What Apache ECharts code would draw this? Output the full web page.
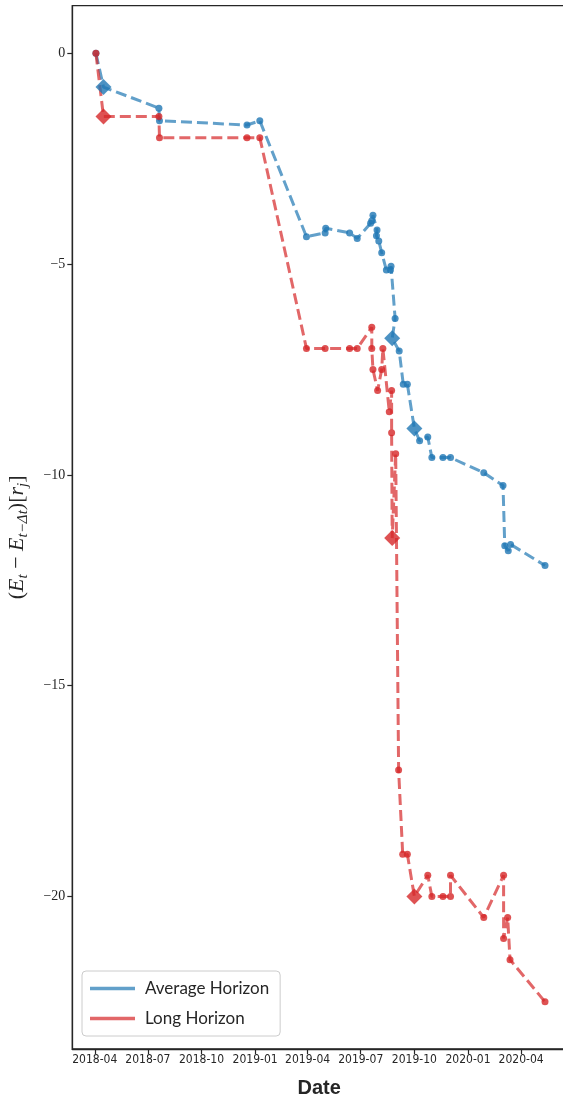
<!DOCTYPE html>
<html>
<head>
<meta charset="utf-8">
<script src="https://cdn.jsdelivr.net/npm/echarts@6/dist/echarts.min.js"></script>
<style>
html,body{margin:0;padding:0;background:#fff;}
#chart{width:563px;height:1099px;}
</style>
</head>
<body>
<div id="chart"></div>
<script>
// ---- data ----
const seriesNames = ['Average Horizon', 'Long Horizon'];

const avgDates = ['2018-04-03','2018-04-16','2018-07-20','2018-07-21','2018-12-18','2019-01-09','2019-03-30',
  '2019-05-01','2019-05-02','2019-06-12','2019-06-25','2019-07-18','2019-07-20','2019-07-22','2019-07-29',
  '2019-07-28','2019-08-01','2019-08-06','2019-08-14','2019-08-21','2019-08-22','2019-08-29','2019-08-24',
  '2019-09-05','2019-09-12','2019-09-19','2019-10-01','2019-10-10','2019-10-24','2019-10-31','2019-11-19',
  '2019-12-02','2020-01-28','2020-03-01','2020-03-04','2020-03-10','2020-03-14','2020-05-12'];
const avgValues = [0,-0.80,-1.30,-1.60,-1.70,-1.60,-4.35,
  -4.26,-4.15,-4.26,-4.39,-4.03,-3.97,-3.84,-4.19,
  -4.33,-4.45,-4.73,-5.14,-5.14,-5.05,-6.29,-6.76,
  -7.06,-7.85,-7.85,-8.90,-9.19,-9.10,-9.59,-9.59,
  -9.59,-9.95,-10.25,-11.68,-11.80,-11.65,-12.15];

const longDates = ['2018-04-03','2018-04-16','2018-07-20','2018-07-21','2018-12-18','2019-01-09','2019-03-30',
  '2019-05-01','2019-06-12','2019-06-25','2019-07-20','2019-07-20','2019-07-22','2019-07-30','2019-08-06',
  '2019-08-08','2019-08-19','2019-08-23','2019-08-23','2019-08-24','2019-08-30','2019-09-04','2019-09-11',
  '2019-09-19','2019-10-01','2019-10-24','2019-10-31','2019-11-19','2019-12-02','2019-12-02','2020-01-28',
  '2020-03-02','2020-03-02','2020-03-09','2020-03-13','2020-05-12'];
const longValues = [0,-1.5,-1.5,-2.0,-2.0,-2.0,-7.0,
  -7.0,-7.0,-7.0,-6.5,-7.0,-7.5,-8.0,-7.5,
  -7.0,-8.5,-8.0,-9.0,-11.5,-9.5,-17.0,-19.0,
  -19.0,-20.0,-19.5,-20.0,-20.0,-20.0,-19.5,-20.5,
  -19.5,-21.0,-20.5,-21.5,-22.5];

// dates marked with a diamond
const keyDates = ['2018-04-16','2019-08-24','2019-10-01'];

const xTickLabels = ['2018-04','2018-07','2018-10','2019-01','2019-04','2019-07','2019-10','2020-01','2020-04'];
const yTicks = [0,-5,-10,-15,-20];

// ---- chart ----
const ts = s => +new Date(s);
const xTickValues = xTickLabels.map(s => ts(s + '-01'));
const colors = ['#1f77b4', '#d62728'];

function buildData(dates, values) {
  return dates.map((d, i) => {
    const key = keyDates.includes(d);
    return {
      value: [ts(d), values[i]],
      symbol: key ? 'diamond' : 'circle',
      symbolSize: key ? 16 : 7
    };
  });
}

function mkSeries(name, dates, values, color) {
  return {
    type: 'line',
    name: name,
    data: buildData(dates, values),
    showAllSymbol: true,
    symbol: 'circle',
    symbolSize: 7,
    lineStyle: { color: color, width: 3, opacity: 0.7, type: [11, 5] },
    itemStyle: { color: color, opacity: 0.8 },
    emphasis: { disabled: true },
    animation: false
  };
}

function fmtDate(v) {
  const d = new Date(v);
  return d.getFullYear() + '-' + String(d.getMonth() + 1).padStart(2, '0');
}

const axisColor = '#262626';
const chart = echarts.init(document.getElementById('chart'), null, { renderer: 'canvas' });
chart.setOption({
  animation: false,
  backgroundColor: '#fff',
  grid: {
    left: 72.3, right: -3, top: 5.7, bottom: 50,
    outerBoundsMode: 'none', containLabel: false,
    show: true, borderColor: axisColor, borderWidth: 1.3, backgroundColor: 'transparent'
  },
  xAxis: {
    type: 'value',
    min: ts('2018-02-21T12:00:00'),
    max: ts('2020-06-17'),
    axisLine: { show: true, onZero: false, lineStyle: { color: axisColor, width: 1.3 } },
    axisTick: { show: true, length: 5, lineStyle: { color: axisColor, width: 1.2 }, customValues: xTickValues },
    axisLabel: {
      customValues: xTickValues,
      margin: 5,
      color: axisColor,
      fontSize: 12,
      fontFamily: 'DejaVu Sans Condensed, DejaVu Sans',
      formatter: fmtDate
    },
    splitLine: { show: false },
    name: 'Date',
    nameLocation: 'middle',
    nameGap: 29,
    nameTextStyle: { fontSize: 20, fontWeight: 'bold', color: axisColor, fontFamily: 'Liberation Sans, Arial' }
  },
  yAxis: {
    type: 'value',
    min: -23.62,
    max: 1.13,
    axisLine: { show: true, onZero: false, lineStyle: { color: axisColor, width: 1.3 } },
    axisTick: { show: true, length: 5, lineStyle: { color: axisColor, width: 1.2 }, customValues: yTicks },
    axisLabel: {
      customValues: yTicks,
      margin: 7,
      color: axisColor,
      fontSize: 14,
      fontFamily: 'Liberation Serif, DejaVu Serif',
      formatter: v => v < 0 ? '\u2212' + Math.abs(v) : String(v)
    },
    splitLine: { show: false },
    name: '{u|(}{i|E}{s|t}{u| \u2212 }{i|E}{s|t\u2212\u0394t}{u|)[}{i|r}{s|j}{u|]}',
    nameLocation: 'middle',
    nameRotate: 90,
    nameGap: 42,
    nameTextStyle: {
      color: axisColor,
      padding: [0, 20, 0, 0],
      rich: {
        u: { fontSize: 22, fontFamily: 'Liberation Serif', lineHeight: 26, verticalAlign: 'middle', color: axisColor },
        i: { fontSize: 22, fontFamily: 'Liberation Serif', fontStyle: 'italic', lineHeight: 26, verticalAlign: 'middle', color: axisColor },
        s: { fontSize: 15, fontFamily: 'Liberation Serif', fontStyle: 'italic', lineHeight: 16, verticalAlign: 'bottom', color: axisColor }
      }
    }
  },
  legend: {
    orient: 'vertical',
    left: 82,
    top: 971,
    data: seriesNames,
    icon: 'rect',
    itemWidth: 45,
    itemHeight: 3.5,
    itemGap: 13,
    padding: [9, 11, 9, 8],
    backgroundColor: 'rgba(255,255,255,0.8)',
    borderColor: '#cccccc',
    borderWidth: 1,
    borderRadius: 4,
    itemStyle: { opacity: 0.7 },
    textStyle: { fontSize: 17, fontFamily: 'Lato', color: axisColor, padding: [0, 0, 0, 5] },
    selectedMode: false
  },
  series: [
    mkSeries(seriesNames[0], avgDates, avgValues, colors[0]),
    mkSeries(seriesNames[1], longDates, longValues, colors[1])
  ]
});
</script>
</body>
</html>
